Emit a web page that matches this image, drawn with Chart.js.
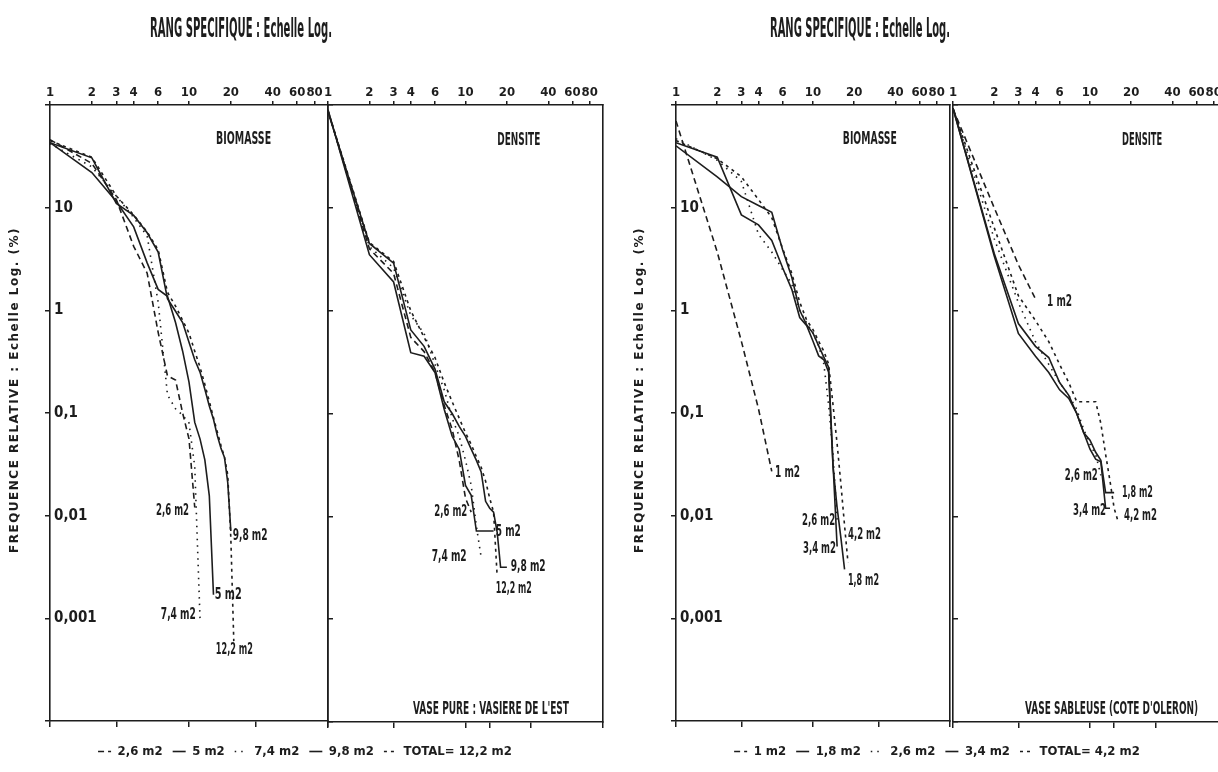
<!DOCTYPE html>
<html>
<head>
<meta charset="utf-8">
<script src="https://cdn.jsdelivr.net/npm/chart.js@4.4.1/dist/chart.umd.min.js"></script>
<style>
  html, body { margin: 0; padding: 0; background: #fff; overflow: hidden; }
  body { width: 1218px; height: 772px; position: relative; }
  canvas { position: absolute; top: 0; }
</style>
</head>
<body>
<canvas id="bio1" width="610" height="772" style="left:0px"></canvas>
<canvas id="den1" width="295" height="772" style="left:318px"></canvas>
<canvas id="bio2" width="622" height="772" style="left:626px"></canvas>
<canvas id="den2" width="294" height="772" style="left:943px"></canvas>
<script>
const INK = '#1d1d1d';
const NARROW = '"Liberation Sans Narrow", "DejaVu Sans Condensed", "Liberation Sans", sans-serif';

// axes : rang specifique (log) / frequence relative en % (log)
const topTicks = [1, 2, 3, 4, 6, 10, 20, 40, 60, 80];
const bottomTicksBio = [1, 3, 10, 30, 100];
const bottomTicksDen = [1, 3, 10, 15, 30, 100];
const yTicks = [0.0001, 0.001, 0.01, 0.1, 1, 10, 100];
const yTickLabels = ['', '0,001', '0,01', '0,1', '1', '10', ''];

// VASE PURE : VASIERE DE L'EST  (valeurs par rang 1, 2, 3 ...)
const names1 = ['2,6 m2', '5 m2', '7,4 m2', '9,8 m2', 'TOTAL= 12,2 m2'];
const bio1_26 = [46, 27, 12, 4.2, 2.3, 0.61, 0.23, 0.21, 0.10, 0.056, 0.012];
const bio1_5 = [43, 22, 11.5, 6.5, 2.9, 1.6, 1.37, 0.76, 0.40, 0.20, 0.081, 0.056, 0.035, 0.0156, 0.0017];
const bio1_74 = [42, 25, 13, 8, 5.3, 1.2, 0.15, 0.11, 0.095, 0.08, 0.03, 0.001];
const bio1_98 = [43, 30.6, 11, 8.4, 5.7, 3.7, 1.3, 0.98, 0.76, 0.49, 0.33, 0.25, 0.17, 0.117, 0.087, 0.06, 0.045, 0.037, 0.021, 0.0071];
const bio1_tot = [45, 31, 13, 8.5, 5.8, 3.9, 1.5, 1.1, 0.8, 0.6, 0.4, 0.28, 0.19, 0.13, 0.09, 0.065, 0.048, 0.037, 0.025, 0.006, 0.0006];
const den1_26 = [88, 4.0, 2.3, 0.55, 0.4, 0.25, 0.12, 0.07, 0.035, 0.015, 0.011];
const den1_5 = [90, 3.5, 1.9, 0.39, 0.36, 0.25, 0.11, 0.06, 0.045, 0.02, 0.016, 0.0072, 0.0072, 0.0072, 0.0072, 0.0072];
const den1_74 = [87, 4.2, 2.6, 0.9, 0.6, 0.3, 0.17, 0.09, 0.06, 0.035, 0.02, 0.008, 0.004];
const den1_98 = [86, 4.5, 2.9, 0.65, 0.45, 0.27, 0.13, 0.1, 0.075, 0.06, 0.045, 0.035, 0.027, 0.014, 0.012, 0.011, 0.007, 0.0032, 0.0032, 0.0032];
const den1_tot = [88, 4.6, 3.0, 1.0, 0.55, 0.35, 0.2, 0.13, 0.09, 0.065, 0.05, 0.038, 0.03, 0.022, 0.015, 0.011, 0.0026];

// VASE SABLEUSE (COTE D'OLERON)
const names2 = ['1 m2', '1,8 m2', '2,6 m2', '3,4 m2', 'TOTAL= 4,2 m2'];
const bio2_1 = [70, 3.7, 0.5, 0.11, 0.027];
const bio2_18 = [43, 31, 8.5, 6.8, 4.8, 2.6, 1.6, 0.85, 0.71, 0.5, 0.36, 0.33, 0.25, 0.03, 0.012, 0.006, 0.003];
const bio2_26 = [47, 29, 18, 5.5, 3.7, 2.5, 1.8, 1.0, 0.75, 0.6, 0.45, 0.3, 0.12, 0.04, 0.009];
const bio2_34 = [40, 20, 12.8, 10.5, 9, 3.9, 2.1, 1.0, 0.72, 0.6, 0.45, 0.35, 0.28, 0.032, 0.005];
const bio2_tot = [45, 30, 20, 12, 8, 4, 2.3, 1.2, 0.8, 0.65, 0.5, 0.4, 0.3, 0.12, 0.05, 0.02, 0.008, 0.0035];
const den2_1 = [92, 10, 2.8, 1.3];
const den2_18 = [93, 3.6, 0.75, 0.45, 0.35, 0.2, 0.15, 0.1, 0.065, 0.055, 0.042, 0.035, 0.017, 0.017, 0.017];
const den2_26 = [93, 5.0, 1.2, 0.5, 0.3, 0.2, 0.15, 0.11, 0.07, 0.05, 0.04, 0.025];
const den2_34 = [93, 3.4, 0.6, 0.36, 0.25, 0.17, 0.14, 0.1, 0.065, 0.045, 0.036, 0.034, 0.012, 0.012];
const den2_tot = [92, 6.4, 1.4, 0.8, 0.5, 0.3, 0.2, 0.13, 0.13, 0.13, 0.13, 0.08, 0.04, 0.022, 0.012, 0.009];

// traits : tirets, plein, points, plein, tirets fins
const dashes = [[6, 4], [], [1.5, 5], [], [3, 4]];

const titleFont = 'bold 27px ' + NARROW;
const panelFont = 'bold 17px ' + NARROW;
const tagFont = 'bold 15px ' + NARROW;
const yTitleFont = 'bold 12px "DejaVu Sans", sans-serif';

function toPoints(values) {
    return values.map((v, i) => ({ x: i + 1, y: v }));
}

function makeDatasets(names, series) {
    return series.map((values, i) => ({
        label: names[i],
        data: toPoints(values),
        borderColor: INK,
        backgroundColor: INK,
        borderWidth: 1.6,
        borderDash: dashes[i],
        pointRadius: 0,
        tension: 0,
        fill: false,
    }));
}

function fixedTicks(values) {
    return scale => { scale.ticks = values.map(v => ({ value: v })); };
}

// legend lines take the dash of their dataset
function legendItems(chart) {
    const items = Chart.defaults.plugins.legend.labels.generateLabels(chart);
    items.forEach((item, i) => {
        item.lineDash = chart.data.datasets[i].borderDash;
        item.lineWidth = 1.6;
        item.strokeStyle = INK;
        item.pointStyle = 'line';
    });
    return items;
}

// texts placed on the data scales (at) or relative to the plot corner (px)
function notesPlugin(items) {
    return {
        id: 'notes',
        afterDraw(chart) {
            const ctx = chart.ctx;
            const area = chart.chartArea;
            items.forEach(n => {
                let x, y;
                if (n.px) {
                    x = area.left + n.px[0];
                    y = area.top + n.px[1];
                } else {
                    x = chart.scales.x.getPixelForValue(n.at[0]);
                    y = chart.scales.y.getPixelForValue(n.at[1]);
                }
                ctx.save();
                ctx.translate(x, y);
                if (n.rot) ctx.rotate(n.rot * Math.PI / 180);
                ctx.font = n.font;
                if (n.spacing) ctx.letterSpacing = n.spacing;
                ctx.fillStyle = INK;
                ctx.textAlign = n.align || 'left';
                ctx.textBaseline = 'middle';
                if (n.w) ctx.fillText(n.text, 0, 0, n.w);
                else ctx.fillText(n.text, 0, 0);
                ctx.restore();
            });
        }
    };
}

function makePanel(id, p) {
    const axisFont = { family: NARROW, size: 13, weight: 'bold' };
    return new Chart(document.getElementById(id), {
        type: 'line',
        data: { datasets: p.datasets },
        plugins: [notesPlugin(p.notes)],
        options: {
            responsive: false,
            animation: false,
            events: [],
            layout: { padding: { top: 80, bottom: p.legend ? 4 : 36, left: 0, right: 0 } },
            plugins: {
                tooltip: { enabled: false },
                legend: {
                    display: p.legend,
                    position: 'bottom',
                    labels: {
                        usePointStyle: true,
                        pointStyleWidth: 13,
                        padding: 10,
                        color: INK,
                        font: { family: NARROW, size: 13, weight: 'bold' },
                        generateLabels: legendItems,
                    },
                },
            },
            scales: {
                x: {
                    type: 'logarithmic',
                    position: 'top',
                    min: 1,
                    max: 100,
                    afterBuildTicks: fixedTicks(topTicks),
                    afterFit: s => { s.height = 25; },
                    ticks: { autoSkip: false, maxRotation: 0, minRotation: 0, padding: 1, color: INK, font: axisFont, callback: v => String(v) },
                    grid: { drawOnChartArea: false, tickLength: 4, color: INK, lineWidth: 1.5 },
                    border: { color: INK, width: 1.6 },
                },
                xb: {
                    type: 'logarithmic',
                    position: 'bottom',
                    min: 1,
                    max: 100,
                    afterBuildTicks: fixedTicks(p.bottomTicks),
                    afterFit: s => { s.height = 14; },
                    ticks: { display: false },
                    grid: { drawOnChartArea: false, tickLength: 6, color: INK, lineWidth: 1.5 },
                    border: { color: INK, width: 1.6 },
                },
                y: {
                    type: 'logarithmic',
                    position: 'left',
                    min: 0.0001,
                    max: 100,
                    afterBuildTicks: fixedTicks(yTicks),
                    afterFit: s => { s.width = p.left; },
                    ticks: { display: p.yLabels, mirror: true, padding: 4, color: INK, font: { family: NARROW, size: 15, weight: 'bold' }, callback: (v, i) => yTickLabels[i] },
                    grid: { drawOnChartArea: false, tickLength: p.yLabels ? 5 : -5, color: INK, lineWidth: 1.5 },
                    border: { color: INK, width: 1.6 },
                },
                yr: {
                    type: 'linear',
                    position: 'right',
                    min: 0,
                    max: 1,
                    afterFit: s => { s.width = p.right; },
                    ticks: { display: false },
                    grid: { drawOnChartArea: false, drawTicks: false },
                    border: { color: INK, width: 1.6 },
                },
            },
        },
    });
}

makePanel('bio1', {
    datasets: makeDatasets(names1, [bio1_26, bio1_5, bio1_74, bio1_98, bio1_tot]),
    left: 50, right: 282, yLabels: true, legend: true, bottomTicks: bottomTicksBio,
    notes: [
        { text: 'RANG SPECIFIQUE : Echelle Log.', px: [100, -75], font: titleFont, w: 182 },
        { text: 'FREQUENCE RELATIVE : Echelle Log. (%)', px: [-35, 285], rot: -90, align: 'center', font: yTitleFont, spacing: '1.5px', w: 355 },
        { text: 'BIOMASSE', at: [24.7, 45.7], align: 'center', font: panelFont, w: 55 },
        { text: '2,6 m2', at: [10, 0.0112], align: 'right', font: tagFont, w: 33 },
        { text: '9,8 m2', at: [20.6, 0.0063], font: tagFont, w: 35 },
        { text: '5 m2', at: [15.3, 0.00167], font: tagFont, w: 27 },
        { text: '7,4 m2', at: [11.2, 0.00107], align: 'right', font: tagFont, w: 35 },
        { text: '12,2 m2', at: [15.6, 0.00049], font: tagFont, w: 37 },
    ],
});

makePanel('den1', {
    datasets: makeDatasets(names1, [den1_26, den1_5, den1_74, den1_98, den1_tot]),
    left: 10, right: 10, yLabels: false, legend: false, bottomTicks: bottomTicksDen,
    notes: [
        { text: 'DENSITE', at: [24.4, 44.7], align: 'center', font: panelFont, w: 43 },
        { text: "VASE PURE : VASIERE DE L'EST", at: [56.6, 0.000131], align: 'right', font: panelFont, w: 156 },
        { text: '2,6 m2', at: [10.3, 0.011], align: 'right', font: tagFont, w: 33 },
        { text: '5 m2', at: [16.6, 0.0071], font: tagFont, w: 25 },
        { text: '7,4 m2', at: [10.2, 0.004], align: 'right', font: tagFont, w: 35 },
        { text: '9,8 m2', at: [21.3, 0.0032], font: tagFont, w: 35 },
        { text: '12,2 m2', at: [16.6, 0.00195], font: tagFont, w: 36 },
    ],
});

makePanel('bio2', {
    datasets: makeDatasets(names2, [bio2_1, bio2_18, bio2_26, bio2_34, bio2_tot]),
    left: 50, right: 298, yLabels: true, legend: true, bottomTicks: bottomTicksBio,
    notes: [
        { text: 'RANG SPECIFIQUE : Echelle Log.', px: [94, -75], font: titleFont, w: 180 },
        { text: 'FREQUENCE RELATIVE : Echelle Log. (%)', px: [-36, 285], rot: -90, align: 'center', font: yTitleFont, spacing: '1.5px', w: 355 },
        { text: 'BIOMASSE', at: [26, 45.7], align: 'center', font: panelFont, w: 54 },
        { text: '1 m2', at: [5.28, 0.0257], font: tagFont, w: 25 },
        { text: '2,6 m2', at: [14.5, 0.0089], align: 'right', font: tagFont, w: 33 },
        { text: '4,2 m2', at: [18.0, 0.0064], font: tagFont, w: 33 },
        { text: '3,4 m2', at: [14.7, 0.0047], align: 'right', font: tagFont, w: 33 },
        { text: '1,8 m2', at: [18.0, 0.0023], font: tagFont, w: 31 },
    ],
});

makePanel('den2', {
    datasets: makeDatasets(names2, [den2_1, den2_18, den2_26, den2_34, den2_tot]),
    left: 10, right: 10, yLabels: false, legend: false, bottomTicks: bottomTicksDen,
    notes: [
        { text: 'DENSITE', at: [24, 44.7], align: 'center', font: panelFont, w: 40 },
        { text: "VASE SABLEUSE (COTE D'OLERON)", at: [3.36, 0.000131], font: panelFont, w: 173 },
        { text: '1 m2', at: [4.86, 1.2], font: tagFont, w: 25 },
        { text: '2,6 m2', at: [11.4, 0.0245], align: 'right', font: tagFont, w: 33 },
        { text: '1,8 m2', at: [17.1, 0.017], font: tagFont, w: 31 },
        { text: '3,4 m2', at: [13.1, 0.0112], align: 'right', font: tagFont, w: 33 },
        { text: '4,2 m2', at: [17.7, 0.01], font: tagFont, w: 33 },
    ],
});
</script>
</body>
</html>
